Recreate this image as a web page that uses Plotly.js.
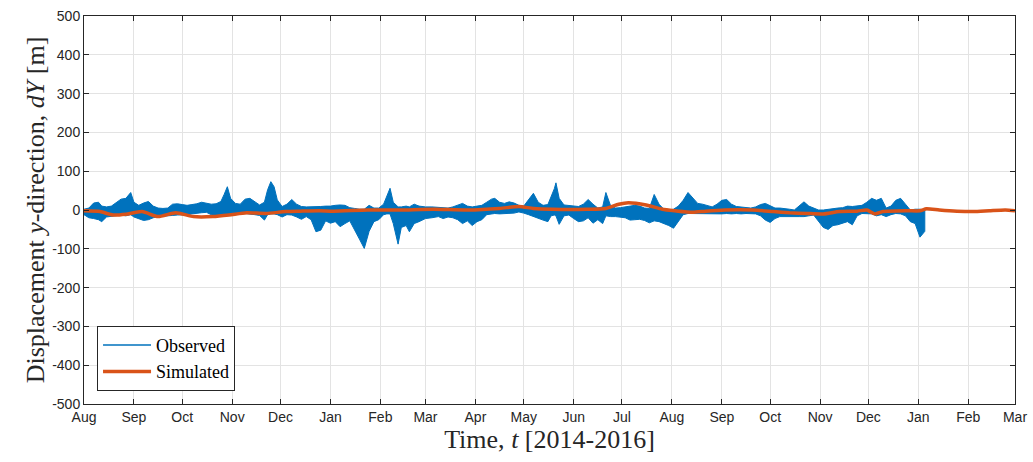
<!DOCTYPE html>
<html>
<head>
<meta charset="utf-8">
<script src="https://cdn.plot.ly/plotly-3.0.1.min.js"></script>
<style>html,body{margin:0;padding:0;background:#fff;}#chart{width:1033px;height:462px;}</style>
</head>
<body>
<div id="chart"></div>
<script>
// Observed displacement: sampled dates with upper/lower envelope of the noisy record [m]
const obsDate = [
"2014-08-01","2014-08-04","2014-08-07","2014-08-10","2014-08-12","2014-08-15","2014-08-18","2014-08-21","2014-08-24","2014-08-27",
"2014-08-30","2014-09-01","2014-09-04","2014-09-07","2014-09-10","2014-09-13","2014-09-16","2014-09-19","2014-09-22","2014-09-25",
"2014-09-28","2014-10-01","2014-10-04","2014-10-07","2014-10-10","2014-10-13","2014-10-16","2014-10-19","2014-10-22","2014-10-25",
"2014-10-27","2014-10-29","2014-10-31","2014-11-03","2014-11-06","2014-11-09","2014-11-12","2014-11-15","2014-11-18","2014-11-21",
"2014-11-23","2014-11-25","2014-11-27","2014-11-29","2014-12-02","2014-12-05","2014-12-08","2014-12-11","2014-12-14","2014-12-17",
"2014-12-20","2014-12-23","2014-12-26","2014-12-29","2015-01-01","2015-01-04","2015-01-07","2015-01-10","2015-01-13","2015-01-16",
"2015-01-19","2015-01-22","2015-01-25","2015-01-28","2015-01-31","2015-02-03","2015-02-05","2015-02-07","2015-02-09","2015-02-12",
"2015-02-14","2015-02-17","2015-02-19","2015-02-22","2015-02-25","2015-03-01","2015-03-05","2015-03-09","2015-03-12","2015-03-15",
"2015-03-18","2015-03-21","2015-03-24","2015-03-27","2015-03-30","2015-04-02","2015-04-05","2015-04-08","2015-04-11","2015-04-13",
"2015-04-16","2015-04-19","2015-04-22","2015-04-25","2015-04-28","2015-05-01","2015-05-04","2015-05-07","2015-05-10","2015-05-13",
"2015-05-16","2015-05-18","2015-05-20","2015-05-21","2015-05-23","2015-05-26","2015-05-29","2015-06-01","2015-06-04","2015-06-07",
"2015-06-10","2015-06-13","2015-06-16","2015-06-19","2015-06-21","2015-06-24","2015-06-27","2015-06-30","2015-07-03","2015-07-06",
"2015-07-09","2015-07-12","2015-07-15","2015-07-18","2015-07-21","2015-07-24","2015-07-27","2015-07-30","2015-08-02","2015-08-05",
"2015-08-08","2015-08-11","2015-08-14","2015-08-17","2015-08-20","2015-08-23","2015-08-26","2015-08-29","2015-09-01","2015-09-04",
"2015-09-07","2015-09-10","2015-09-13","2015-09-16","2015-09-19","2015-09-22","2015-09-25","2015-09-28","2015-10-01","2015-10-04",
"2015-10-07","2015-10-10","2015-10-13","2015-10-16","2015-10-19","2015-10-22","2015-10-25","2015-10-28","2015-10-31","2015-11-03",
"2015-11-06","2015-11-09","2015-11-12","2015-11-15","2015-11-18","2015-11-21","2015-11-24","2015-11-27","2015-11-30","2015-12-03",
"2015-12-06","2015-12-09","2015-12-12","2015-12-15","2015-12-18","2015-12-21","2015-12-24","2015-12-27","2015-12-30","2016-01-02",
"2016-01-05"
];
const obsHi = [
2,5,18,20,10,8,10,20,28,30,
45,20,12,18,22,10,5,4,5,15,
16,14,12,14,16,20,18,15,16,22,
40,60,30,17,15,28,30,22,13,20,
52,73,60,26,9,15,27,15,9,8,
8,9,9,10,10,12,13,12,6,4,
2,2,12,5,5,15,34,56,20,8,
8,10,8,15,10,8,8,7,6,5,
8,12,17,10,8,10,12,20,28,30,
20,17,21,18,12,10,25,43,20,12,
14,34,55,70,30,13,12,10,9,15,
27,15,5,8,45,10,5,6,8,10,
12,10,5,4,40,15,2,0,2,10,
25,45,30,17,15,12,8,15,25,27,
15,9,8,6,5,8,14,17,10,5,
5,4,2,0,10,21,10,5,0,0,
2,4,5,6,10,9,10,12,20,30,
25,30,5,10,25,30,15,0,2,2,
0
];
const obsLo = [
-12,-20,-22,-25,-30,-18,-17,-15,-13,-15,
-12,-18,-22,-27,-25,-20,-17,-16,-15,-14,
-13,-12,-12,-10,-8,-7,-6,-12,-15,-12,
-10,-10,-12,-9,-9,-9,-10,-12,-14,-26,
-12,-10,-10,-12,-18,-12,-13,-18,-24,-17,
-25,-56,-52,-28,-34,-30,-43,-35,-28,-50,
-75,-99,-55,-30,-25,-12,-10,-10,-35,-88,
-45,-40,-56,-35,-30,-22,-20,-17,-22,-18,
-20,-25,-35,-28,-40,-30,-25,-12,-10,-9,
-10,-10,-9,-8,-5,-8,-12,-17,-22,-26,
-30,-15,-13,-15,-37,-15,-13,-22,-30,-28,
-20,-34,-25,-35,-15,-17,-17,-18,-20,-26,
-25,-24,-27,-33,-28,-30,-35,-40,-47,-28,
-12,-9,-10,-10,-9,-9,-9,-10,-10,-9,
-10,-9,-10,-9,-9,-10,-15,-26,-32,-22,
-17,-17,-17,-17,-17,-17,-15,-13,-30,-45,
-50,-40,-38,-35,-30,-38,-15,-9,-9,-10,
-15,-12,-17,-12,-9,-10,-15,-30,-35,-70,
-55
];

// Simulated displacement [m]
const simDate = [
"2014-08-01","2014-08-11","2014-08-19","2014-08-27","2014-09-06","2014-09-16","2014-09-27","2014-10-08","2014-10-20","2014-10-30",
"2014-11-10","2014-11-22","2014-12-04","2014-12-13","2014-12-25","2015-01-03","2015-01-24","2015-02-13","2015-03-06","2015-03-27",
"2015-04-16","2015-04-28","2015-05-07","2015-05-19","2015-06-09","2015-06-21","2015-06-29","2015-07-05","2015-07-16","2015-07-26",
"2015-08-03","2015-08-14","2015-08-22","2015-09-03","2015-09-20","2015-10-03","2015-10-13","2015-10-24","2015-11-03","2015-11-13",
"2015-11-24","2015-11-30","2015-12-05","2015-12-10","2015-12-25","2016-01-02","2016-01-06","2016-01-14","2016-01-25","2016-02-04",
"2016-02-14","2016-02-24","2016-03-01"
];
const simVal = [
-2,-4,-13,-11,-4,-17,-7,-17,-17,-13,
-7,-9,-4,-3,-2,-3,0,0,2,0,
4,9,4,2,2,4,15,19,13,2,
-2,-6,-3,0,0,-4,-7,-9,-10,-4,
-3,0,-10,-4,-2,-2,3,0,-3,-4,
-2,0,-2
];

const yTicks = [-500,-400,-300,-200,-100,0,100,200,300,400,500];
const xRange = ["2014-08-01","2016-03-01"];

const BLUE = "#0072BD", ORANGE = "#D95319", AX = "#262626";
const SERIF = "Liberation Serif, DejaVu Serif, serif";

const bandX = obsDate.concat(obsDate.slice().reverse());
const bandY = obsHi.concat(obsLo.slice().reverse());

const traces = [
  {x: bandX, y: bandY, type: "scatter", mode: "lines", fill: "toself",
   fillcolor: BLUE, line: {color: BLUE, width: 1}, showlegend: false, hoverinfo: "skip"},
  {x: [null], y: [null], type: "scatter", mode: "lines", name: "Observed",
   line: {color: BLUE, width: 1.5}},
  {x: simDate, y: simVal, type: "scatter", mode: "lines", name: "Simulated",
   line: {color: ORANGE, width: 3.5, shape: "spline", smoothing: 0.6}}
];

const layout = {
  width: 1033, height: 462,
  margin: {l: 84, r: 18, t: 16, b: 58},
  paper_bgcolor: "#fff", plot_bgcolor: "#fff",
  font: {family: "Liberation Sans, Arial, sans-serif", size: 14, color: AX},
  showlegend: true,
  legend: {x: 0.014, y: 0.034, xanchor: "left", yanchor: "bottom",
    bgcolor: "#fff", bordercolor: AX, borderwidth: 1, itemwidth: 48,
    font: {family: SERIF, size: 18, color: "#000"},
    tracegroupgap: 0},
  xaxis: {
    type: "date", range: xRange, tick0: xRange[0], dtick: "M1", tickformat: "%b",
    showgrid: true, gridcolor: "#e3e3e3", gridwidth: 1,
    showline: true, linecolor: AX, linewidth: 1, mirror: "ticks",
    ticks: "inside", ticklen: 5, tickcolor: AX, zeroline: false,
    tickfont: {size: 14, color: AX},
    title: {text: "Time, <i>t</i> [2014-2016]", standoff: 3,
      font: {family: SERIF, size: 26, color: AX}}
  },
  yaxis: {
    range: [-500, 500], tickvals: yTicks, ticktext: yTicks.map(String),
    showgrid: true, gridcolor: "#e3e3e3", gridwidth: 1,
    showline: true, linecolor: AX, linewidth: 1, mirror: "ticks",
    ticks: "inside", ticklen: 5, tickcolor: AX, zeroline: false,
    tickfont: {size: 14, color: AX},
    title: {text: "Displacement <i>y</i>-direction, <i>dY</i> [m]", standoff: 0,
      font: {family: SERIF, size: 26, color: AX}}
  }
};

Plotly.newPlot("chart", traces, layout, {staticPlot: true, displayModeBar: false});
</script>
</body>
</html>
